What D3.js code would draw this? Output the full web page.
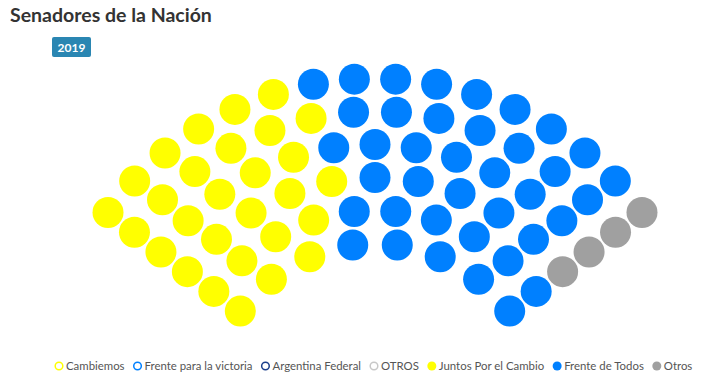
<!DOCTYPE html>
<html>
<head>
<meta charset="utf-8">
<script src="https://cdn.jsdelivr.net/npm/d3@7"></script>
<style>
  html, body { margin: 0; padding: 0; background: #fff; }
  svg { display: block; font-family: Lato, "Open Sans", sans-serif; }
</style>
</head>
<body>
<div id="chart"></div>
<script>
// Senado 2019: bancas por bloque
var TITLE = 'Senadores de la Nación';
var YEAR = '2019';
var PARTIES = ['Juntos Por el Cambio', 'Frente de Todos', 'Otros'];
var SEATS = [29, 39, 4];
var PARTY_COLORS = ['#ffff00', '#0080ff', '#a0a0a0'];
var LEGEND_NAMES = ['Cambiemos', 'Frente para la victoria', 'Argentina Federal', 'OTROS',
                    'Juntos Por el Cambio', 'Frente de Todos', 'Otros'];
var LEGEND_COLORS = ['#ffff00', '#0080ff', '#1b3f8b', '#c8c8c8',
                     '#ffff00', '#0080ff', '#a0a0a0'];
var LEGEND_FILLED = [false, false, false, false, true, true, true];

(function () {
    var W = 705, H = 383;
    var cx = 375, cy = 411.5, rIn = 168, rOut = 333, ROWS = 6;
    var half = 53.3 * Math.PI / 180, dot = 15.5;

    var svg = d3.select('#chart').append('svg')
        .attr('width', W).attr('height', H);

    svg.append('text').attr('x', 10).attr('y', 22)
        .attr('font-size', 19.5).attr('font-weight', 'bold').attr('fill', '#333')
        .text(TITLE);

    // etiqueta del año
    var badge = svg.append('g').attr('transform', 'translate(52,37)');
    badge.append('rect').attr('width', 39).attr('height', 20).attr('rx', 2)
        .attr('fill', '#2a86b2');
    badge.append('text').attr('x', 19.5).attr('y', 14.5).attr('text-anchor', 'middle')
        .attr('font-size', 12).attr('font-weight', 'bold').attr('fill', '#fff')
        .text(YEAR);

    // filas del hemiciclo: bancas por fila proporcionales al radio
    var rScale = d3.scaleLinear().domain([0, ROWS - 1]).range([rIn, rOut]);
    var aScale = d3.scaleLinear().domain([0, 1]).range([-half, half]);
    var total = d3.sum(SEATS);
    var radii = d3.range(ROWS).map(rScale);
    var rsum = d3.sum(radii);
    var counts = radii.map(function (r) { return Math.floor(total * r / rsum); });
    var rest = total - d3.sum(counts);
    d3.range(ROWS).sort(function (a, b) {
        return (total * radii[b] / rsum - counts[b]) - (total * radii[a] / rsum - counts[a]);
    }).slice(0, rest).forEach(function (i) { counts[i]++; });

    var slots = [];
    counts.forEach(function (n, row) {
        d3.range(n).forEach(function (k) {
            slots.push({ row: row, f: n > 1 ? k / (n - 1) : 0.5 });
        });
    });
    slots.sort(function (a, b) {
        return Math.abs(a.f - b.f) > 1e-9 ? a.f - b.f : a.row - b.row;
    });
    var party = [];
    SEATS.forEach(function (s, p) { d3.range(s).forEach(function () { party.push(p); }); });

    svg.append('g').selectAll('circle').data(slots).enter().append('circle')
        .attr('cx', function (d) { return cx + rScale(d.row) * Math.sin(aScale(d.f)); })
        .attr('cy', function (d) { return cy - rScale(d.row) * Math.cos(aScale(d.f)); })
        .attr('r', dot)
        .attr('fill', function (d, i) { return PARTY_COLORS[party[i]]; });

    // leyenda
    var lg = svg.append('g').attr('transform', 'translate(59,366)');
    var lx = 0;
    LEGEND_NAMES.forEach(function (name, i) {
        var g = lg.append('g').attr('transform', 'translate(' + lx + ',0)');
        g.append('circle').attr('cx', 0).attr('cy', 0).attr('r', LEGEND_FILLED[i] ? 4.5 : 3.8)
            .attr('fill', LEGEND_FILLED[i] ? LEGEND_COLORS[i] : '#fff')
            .attr('stroke', LEGEND_FILLED[i] ? 'none' : LEGEND_COLORS[i])
            .attr('stroke-width', 1.5);
        var t = g.append('text').attr('x', 7).attr('y', 4.2)
            .attr('font-size', 11.4).attr('fill', '#555').text(name);
        lx += 7 + t.node().getComputedTextLength() + 13;
    });
})();
</script>
</body>
</html>
